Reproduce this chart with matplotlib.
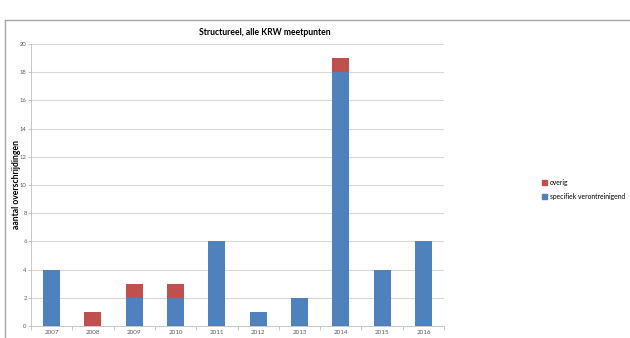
import matplotlib
matplotlib.use("Agg")
import matplotlib.pyplot as plt
from matplotlib.lines import Line2D
from matplotlib.patches import Patch
import numpy as np

plt.rcParams['font.family'] = ['Lato', 'DejaVu Sans']

# aantal overschrijdingen per jaar
jaren = ['2007', '2008', '2009', '2010', '2011', '2012', '2013', '2014', '2015', '2016']
specifiek = [4, 0, 2, 2, 6, 1, 2, 18, 4, 6]
overig = [0, 1, 1, 1, 0, 0, 0, 1, 0, 0]

BLAUW = '#4F81BD'
ROOD = '#C0504D'

fig = plt.figure(figsize=(6.3, 3.38), dpi=100)
ax = fig.add_axes([0.049, 0.0355, 0.656, 0.8345])

x = np.arange(len(jaren))
ax.bar(x, specifiek, width=0.41, color=BLAUW, zorder=3)
ax.bar(x, overig, width=0.41, bottom=specifiek, color=ROOD, zorder=3)

ax.set_xlim(-0.5, len(jaren) - 0.5)
ax.set_ylim(0, 20)
ax.set_yticks(range(0, 21, 2))
ax.set_xticks(x)
ax.set_xticklabels(jaren)
ax.set_xticks(np.arange(-0.5, len(jaren)), minor=True)
ax.tick_params(axis='x', which='major', length=0, labelsize=4.5, labelcolor='#595959', pad=3)
ax.tick_params(axis='x', which='minor', length=3, color='#BFBFBF', width=0.6)
ax.tick_params(axis='y', length=2, color='#BFBFBF', width=0.6, labelsize=4.2,
               labelcolor='#595959', pad=1)

ax.grid(axis='y', color='#D9D9D9', linewidth=0.8, zorder=0)
for s in ['top', 'right']:
    ax.spines[s].set_visible(False)
for s in ['left', 'bottom']:
    ax.spines[s].set_color('#BFBFBF')
    ax.spines[s].set_linewidth(0.6)

ax.set_ylabel('aantal overschrijdingen', fontsize=6.2, fontweight='bold', va='center')
ax.yaxis.set_label_coords(-0.035, 0.5)
fig.text(0.421, 0.905, 'Structureel, alle KRW meetpunten', fontsize=6.2,
         fontweight='bold', ha='center', va='center')

handles = [Patch(color=ROOD, label='overig'),
           Patch(color=BLAUW, label='specifiek verontreinigend')]
fig.legend(handles=handles, loc='center left', bbox_to_anchor=(0.855, 0.44),
           frameon=False, fontsize=4.9, handlelength=0.75, handleheight=0.75,
           handletextpad=0.4, labelspacing=0.95, borderpad=0)

# kader links en boven
fig.add_artist(Line2D([0.008, 0.008], [0.0, 0.94], color='#A6A6A6', linewidth=1.0))
fig.add_artist(Line2D([0.008, 1.0], [0.94, 0.94], color='#A6A6A6', linewidth=1.0))

fig.savefig('out.png', dpi=100)
